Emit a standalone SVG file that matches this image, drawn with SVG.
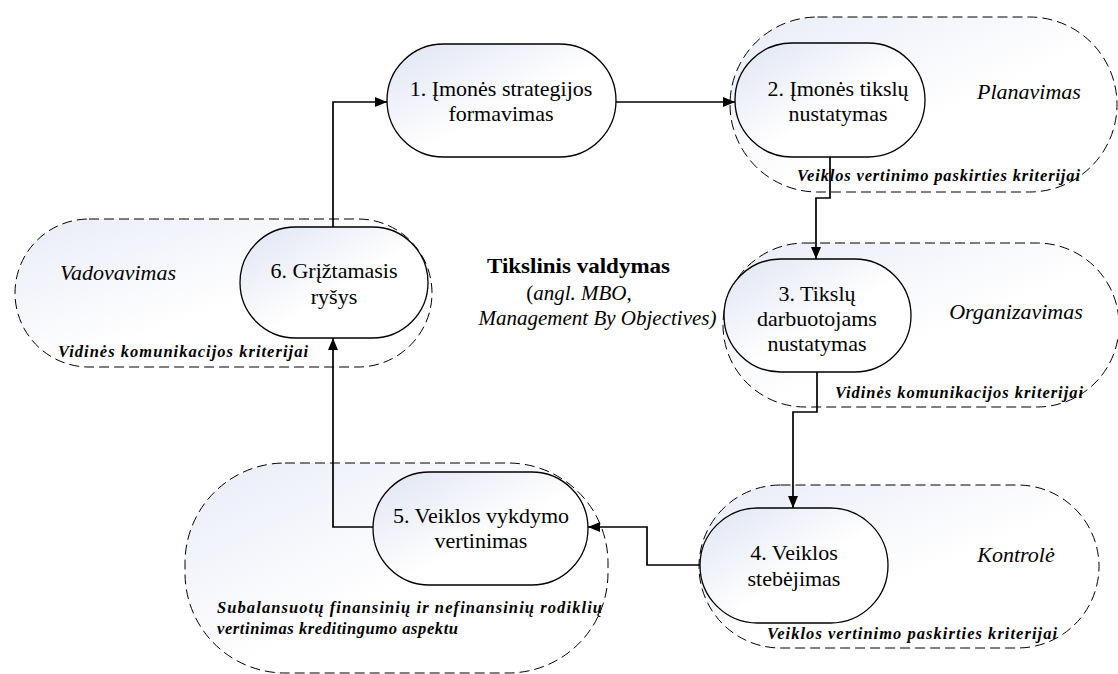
<svg xmlns="http://www.w3.org/2000/svg" width="1118" height="674" viewBox="0 0 1118 674" font-family="Liberation Serif, DejaVu Serif, serif">
  <defs>
    <linearGradient id="nodeFill" x1="0" y1="0" x2="1" y2="1">
      <stop offset="0" stop-color="#dfe4f3"/>
      <stop offset="0.55" stop-color="#ffffff"/>
    </linearGradient>
    <linearGradient id="zoneFill" x1="0" y1="0" x2="1" y2="1">
      <stop offset="0" stop-color="#e8ecf7"/>
      <stop offset="0.55" stop-color="#ffffff"/>
    </linearGradient>
    <marker id="arrow" markerUnits="userSpaceOnUse" markerWidth="14" markerHeight="12" refX="12" refY="5" orient="auto">
      <path d="M0,0 L12,5 L0,10 Z" fill="#000"/>
    </marker>
    <style>
      .zone { fill: url(#zoneFill); stroke: #000; stroke-width: 1; stroke-dasharray: 10 5; }
      .node { fill: url(#nodeFill); stroke: #000; stroke-width: 1.3; }
      .conn { fill: none; stroke: #000; stroke-width: 1.7; marker-end: url(#arrow); }
      .txt { font-size: 22px; text-anchor: middle; }
      .zname { font-size: 22px; font-style: italic; text-anchor: middle; }
      .crit { font-size: 16.5px; font-style: italic; font-weight: bold; }
      .title { font-size: 21px; text-anchor: middle; }
    </style>
  </defs>

  <!-- management function zones (dashed) -->
  <g id="zone-planavimas" font-family="Liberation Serif">
    <rect class="zone" x="730" y="17" width="387" height="175" rx="87.5"/>
    <text class="zname" x="1029" y="99">Planavimas</text>
    <text class="crit" x="797" y="181" textLength="283" lengthAdjust="spacing">Veiklos vertinimo paskirties kriterijai</text>
  </g>
  <g id="zone-organizavimas" font-family="Liberation Serif">
    <rect class="zone" x="723" y="243" width="396" height="164" rx="82"/>
    <text class="zname" x="1016" y="319">Organizavimas</text>
    <text class="crit" x="835" y="398" textLength="248" lengthAdjust="spacing">Vidinės komunikacijos kriterijai</text>
  </g>
  <g id="zone-kontrole" font-family="Liberation Serif">
    <rect class="zone" x="699" y="485" width="400" height="163" rx="81.5"/>
    <text class="zname" x="1016" y="562">Kontrolė</text>
    <text class="crit" x="767" y="639" textLength="290" lengthAdjust="spacing">Veiklos vertinimo paskirties kriterijai</text>
  </g>
  <g id="zone-vertinimas" font-family="Liberation Serif">
    <rect class="zone" x="185" y="463" width="423" height="210" rx="100"/>
    <text class="crit" x="217" y="613" textLength="385" lengthAdjust="spacing">Subalansuotų finansinių ir nefinansinių rodiklių</text>
    <text class="crit" x="217" y="634" textLength="241" lengthAdjust="spacing">vertinimas kreditingumo aspektu</text>
  </g>
  <g id="zone-vadovavimas" font-family="Liberation Serif">
    <rect class="zone" x="15" y="219" width="417" height="148" rx="74"/>
    <text class="zname" x="118" y="280">Vadovavimas</text>
    <text class="crit" x="58" y="357" textLength="250" lengthAdjust="spacing">Vidinės komunikacijos kriterijai</text>
  </g>

  <!-- central caption -->
  <g id="caption" font-family="Liberation Serif">
    <text class="title" x="578.5" y="273" font-size="22" font-weight="bold" textLength="183" lengthAdjust="spacingAndGlyphs">Tikslinis valdymas</text>
    <text class="title" x="579" y="300" font-size="22">(<tspan font-style="italic">angl. MBO</tspan>,</text>
    <text class="title" x="597.5" y="325" font-size="20" font-style="italic">Management By Objectives)</text>
  </g>

  <!-- process steps -->
  <g id="node1" font-family="Liberation Serif">
    <rect class="node" x="387" y="44" width="229" height="113" rx="56.5"/>
    <text class="txt" x="501" y="96">1. Įmonės strategijos</text>
    <text class="txt" x="501" y="121">formavimas</text>
  </g>
  <g id="node2" font-family="Liberation Serif">
    <rect class="node" x="735" y="43" width="190" height="114" rx="57"/>
    <text class="txt" x="838" y="96">2. Įmonės tikslų</text>
    <text class="txt" x="838" y="121">nustatymas</text>
  </g>
  <g id="node3" font-family="Liberation Serif">
    <rect class="node" x="724" y="259" width="187" height="113" rx="56.5"/>
    <text class="txt" x="817" y="301">3. Tikslų</text>
    <text class="txt" x="817" y="326">darbuotojams</text>
    <text class="txt" x="817" y="351">nustatymas</text>
  </g>
  <g id="node4" font-family="Liberation Serif">
    <rect class="node" x="700" y="508" width="188" height="115" rx="57.5"/>
    <text class="txt" x="794" y="560">4. Veiklos</text>
    <text class="txt" x="794" y="586">stebėjimas</text>
  </g>
  <g id="node5" font-family="Liberation Serif">
    <rect class="node" x="373" y="472" width="215" height="113" rx="56.5"/>
    <text class="txt" x="481" y="523">5. Veiklos vykdymo</text>
    <text class="txt" x="481" y="548">vertinimas</text>
  </g>
  <g id="node6" font-family="Liberation Serif">
    <rect class="node" x="240" y="227" width="188" height="111" rx="55.5"/>
    <text class="txt" x="334" y="278">6. Grįžtamasis</text>
    <text class="txt" x="334" y="304">ryšys</text>
  </g>

  <!-- connectors -->
  <g id="connectors">
    <path class="conn" d="M333,227 L333,102 L387,102"/>
    <path class="conn" d="M616,102 L735,102"/>
    <path class="conn" d="M830,157 L830,198 L816,198 L816,259"/>
    <path class="conn" d="M817,372 L817,412 L793,412 L793,508"/>
    <path class="conn" d="M700,565 L647,565 L647,527 L588,527"/>
    <path class="conn" d="M373,527 L333,527 L333,338"/>
  </g>
</svg>
